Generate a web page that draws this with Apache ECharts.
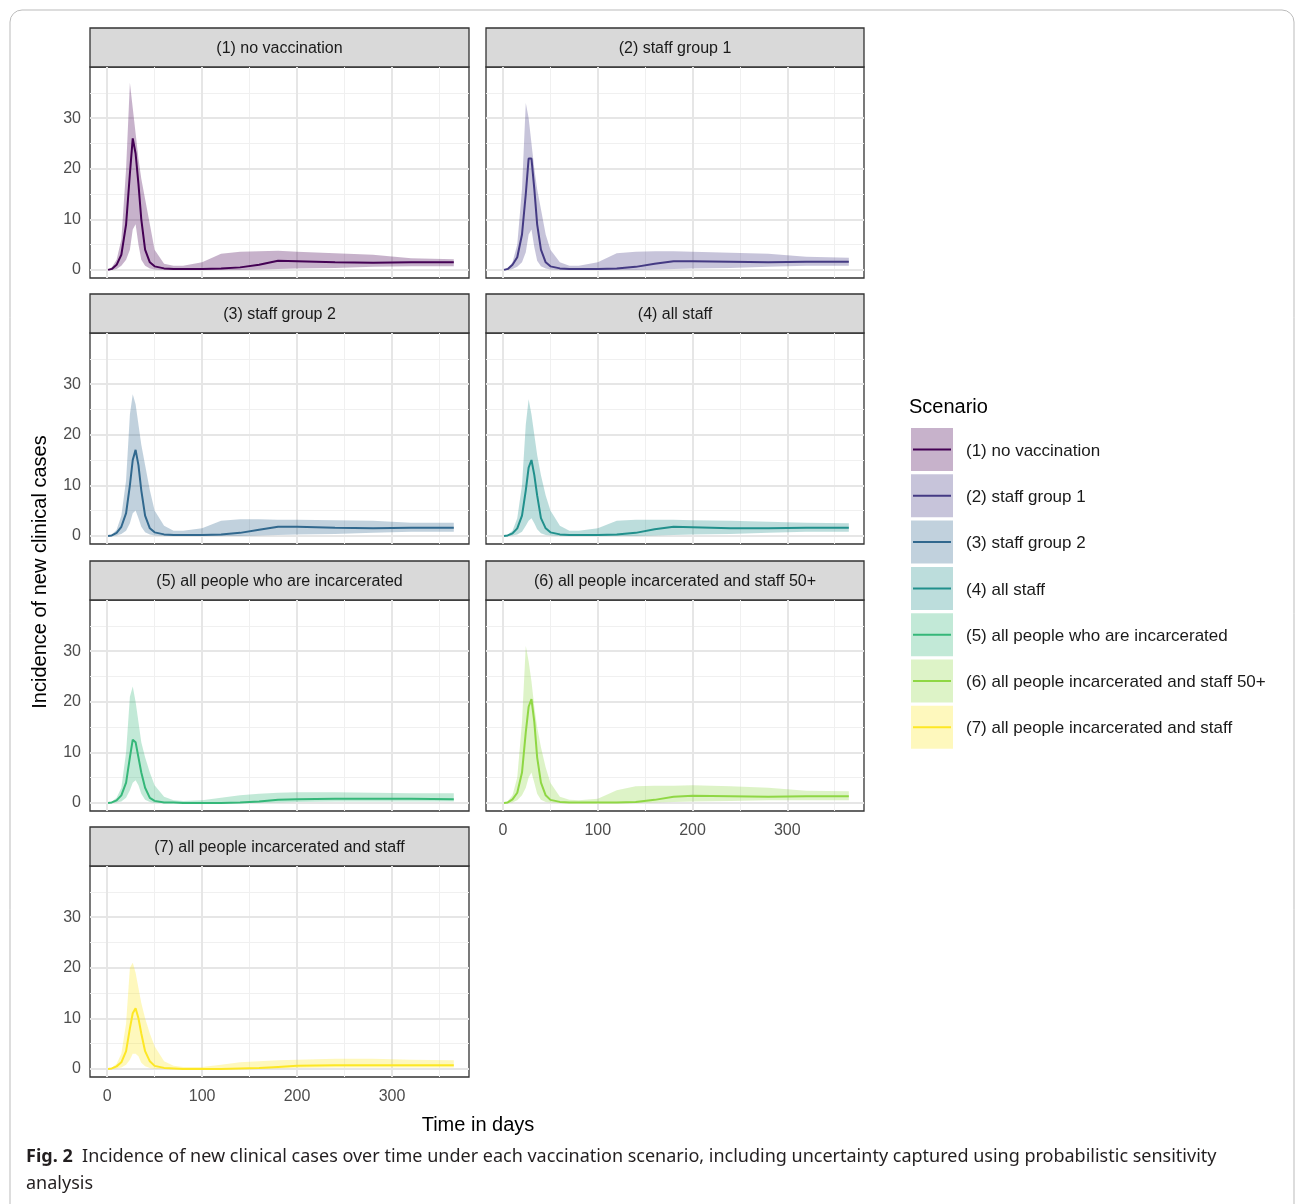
<!DOCTYPE html>
<html><head><meta charset="utf-8">
<script src="https://cdn.jsdelivr.net/npm/echarts@6/dist/echarts.min.js"></script>
<style>html,body{margin:0;padding:0;background:#fff}#c{width:1295px;height:1204px}</style>
</head><body><div id="c"></div>
<script>
const days = [1,5,10,15,20,24,27,30,33,36,40,45,50,60,70,80,100,120,140,160,180,200,240,280,320,365];
const scenarios = ["(1) no vaccination","(2) staff group 1","(3) staff group 2","(4) all staff","(5) all people who are incarcerated","(6) all people incarcerated and staff 50+","(7) all people incarcerated and staff"];
const colors = ["#440154","#443A83","#31688E","#21908C","#35B779","#8FD744","#FDE725"];
const xTicks = [0,100,200,300];
const xMinor = [50,150,250,350];
const yTicks = [0,10,20,30];
const yMinor = [5,15,25,35];

const med1=[0,0.2,1,3,9,19,26,23,17,10,4,1.5,0.7,0.3,0.2,0.2,0.2,0.3,0.5,1,1.8,1.7,1.5,1.4,1.5,1.5];
const up1 =[0,0.5,2,6,20,37,32,27,22,18,14,9,4,1.2,0.8,0.8,1.5,3.2,3.6,3.7,3.8,3.6,3.3,3,2.3,2.1];
const lo1 =[0,0,0.2,0.8,2,4,8,9,5,2,0.8,0.3,0.1,0,0,0,0,0,0,0.1,0.2,0.3,0.4,0.6,0.7,0.7];
const med2=[0,0.2,1,2.5,7,15,22,22,16,9,4,1.5,0.7,0.3,0.2,0.2,0.2,0.3,0.6,1.2,1.7,1.7,1.6,1.5,1.6,1.6];
const up2 =[0,0.4,1.5,5,16,33,30,25,20,16,12,7,4,1.5,0.8,0.8,1.5,3.3,3.6,3.7,3.7,3.6,3.4,3.2,2.6,2.4];
const lo2 =[0,0,0.2,0.6,1.5,3.5,7,8,4.5,1.8,0.7,0.3,0.1,0,0,0,0,0,0,0.1,0.2,0.3,0.4,0.6,0.8,0.8];
const med3=[0,0.1,0.6,1.8,4.5,10,15,17,14,9,4,1.5,0.7,0.3,0.2,0.2,0.2,0.3,0.6,1.2,1.8,1.8,1.6,1.5,1.6,1.6];
const up3 =[0,0.3,1.2,4,11,24,28,26,22,18,14,9,5,2,1,1,1.5,3,3.3,3.3,3.2,3.2,3.1,3,2.6,2.6];
const lo3 =[0,0,0.1,0.4,1,2.5,4.5,5,3.5,1.8,0.7,0.3,0.1,0,0,0,0,0,0,0.1,0.2,0.3,0.4,0.6,0.8,0.8];
const med4=[0,0.1,0.5,1.5,4,9,13.5,15,12,8,3.5,1.5,0.7,0.3,0.2,0.2,0.2,0.3,0.6,1.3,1.8,1.7,1.5,1.5,1.6,1.6];
const up4 =[0,0.3,1,3.5,10,22,27,24,20,16,12,8,5,2,1,1,1.5,3,3.2,3.2,3.2,3.1,3,2.8,2.6,2.5];
const lo4 =[0,0,0.1,0.3,0.8,2,3,3.5,2.5,1.3,0.5,0.2,0.1,0,0,0,0,0,0,0.1,0.2,0.3,0.4,0.6,0.8,0.8];
const med5=[0,0.1,0.5,1.5,4,9,12.5,12,9,6,3,1,0.4,0.1,0.1,0,0,0,0.1,0.3,0.6,0.7,0.8,0.8,0.8,0.7];
const up5 =[0,0.3,1,3,10,21,23,20,16,12,9,6,3.5,1.2,0.5,0.4,0.5,1,1.5,1.8,2,2.1,2.1,2,1.9,1.9];
const lo5 =[0,0,0.1,0.3,1,2.5,4,4.5,3.5,1.8,0.6,0.2,0,0,0,0,0,0,0,0.05,0.1,0.2,0.3,0.3,0.3,0.3];
const med6=[0,0.1,0.7,2,6,14,19,20.5,16,9,4,1.5,0.6,0.2,0.1,0.1,0.1,0.1,0.2,0.6,1.2,1.4,1.3,1.2,1.3,1.3];
const up6 =[0,0.4,1.5,5,16,31,28,24,19,15,11,7,4,1.2,0.6,0.5,0.8,2.5,3.3,3.4,3.4,3.5,3.3,3,2.4,2.3];
const lo6 =[0,0,0.1,0.5,1.5,3,5,6,4,1.8,0.6,0.2,0.1,0,0,0,0,0,0,0.1,0.2,0.3,0.4,0.5,0.5,0.5];
const med7=[0,0.1,0.5,1.3,3.5,8,11,12,10,7,3.5,1.5,0.6,0.2,0.1,0,0,0,0.1,0.2,0.4,0.6,0.7,0.7,0.7,0.7];
const up7 =[0,0.3,1,3,9,20,21,19,16,13,10,7,4.5,1.5,0.6,0.4,0.4,0.8,1.3,1.5,1.7,1.8,2,2,1.8,1.7];
const lo7 =[0,0,0.1,0.3,0.8,1.8,3,3,2.5,1.2,0.5,0.2,0,0,0,0,0,0,0,0.05,0.1,0.2,0.3,0.3,0.3,0.3];

const meds=[med1,med2,med3,med4,med5,med6,med7];
const ups=[up1,up2,up3,up4,up5,up6,up7];
const los=[lo1,lo2,lo3,lo4,lo5,lo6,lo7];

function rgba(hex,a){const n=parseInt(hex.slice(1),16);return `rgba(${n>>16},${(n>>8)&255},${n&255},${a})`;}

const colLeft=[90,486], colW=[379,378];
const rowTop=[67,333,600,866], plotH=211, stripH=39;
const FONT='"Liberation Sans"';
const grids=[],xAxes=[],yAxes=[],series=[],graphics=[];
scenarios.forEach((name,i)=>{
  const r=Math.floor(i/2), c=i%2;
  const left=colLeft[c], top=rowTop[r], w=colW[c];
  grids.push({left:left,top:top,width:w,height:plotH,show:true,borderColor:'#333',borderWidth:1.3,backgroundColor:'#fff',containLabel:false});
  const showX = (i===6||i===5);
  const showY = (c===0);
  xAxes.push({type:'value',gridIndex:i,min:-18,max:381,splitLine:{show:false},axisLine:{show:false},
    axisTick:{show:showX,length:5,lineStyle:{color:'#333'},customValues:xTicks},
    axisLabel:{show:showX,customValues:xTicks,color:'#4d4d4d',fontSize:16,fontFamily:'Liberation Sans',margin:12}});
  yAxes.push({type:'value',gridIndex:i,min:-1.6,max:40.1,splitLine:{show:false},axisLine:{show:false},
    axisTick:{show:showY,length:5,lineStyle:{color:'#333'},customValues:yTicks},
    axisLabel:{show:showY,customValues:yTicks,color:'#4d4d4d',fontSize:16,fontFamily:'Liberation Sans',margin:9}});
  const ml=[];
  xMinor.forEach(v=>ml.push({xAxis:v,lineStyle:{color:'#f0f0f0',width:1,type:'solid'}}));
  yMinor.forEach(v=>ml.push({yAxis:v,lineStyle:{color:'#f0f0f0',width:1,type:'solid'}}));
  xTicks.forEach(v=>ml.push({xAxis:v,lineStyle:{color:'#e6e6e6',width:2,type:'solid'}}));
  yTicks.forEach(v=>ml.push({yAxis:v,lineStyle:{color:'#e6e6e6',width:2,type:'solid'}}));
  const lo=los[i], up=ups[i];
  series.push({type:'custom',xAxisIndex:i,yAxisIndex:i,silent:true,z:2,
    data:[[days[0],lo[0]]],
    renderItem:function(params,api){
      const pts=[];
      for(let k=0;k<days.length;k++) pts.push(api.coord([days[k],up[k]]));
      for(let k=days.length-1;k>=0;k--) pts.push(api.coord([days[k],lo[k]]));
      return {type:'polygon',shape:{points:pts},style:{fill:rgba(colors[i],0.3)}};
    },
    markLine:{silent:true,symbol:'none',label:{show:false},animation:false,z:1,data:ml}});
  series.push({type:'line',xAxisIndex:i,yAxisIndex:i,symbol:'none',silent:true,z:3,
    lineStyle:{width:2,color:colors[i]},data:days.map((d,k)=>[d,meds[i][k]])});
  graphics.push({type:'rect',shape:{x:left,y:top-stripH,width:w,height:stripH},style:{fill:'#d9d9d9',stroke:'#333',lineWidth:1.3}});
  graphics.push({type:'text',x:left+w/2,y:top-stripH/2+1,style:{text:name,font:'16px '+FONT,fill:'#1a1a1a',align:'center',verticalAlign:'middle'}});
});
graphics.push({type:'text',x:909,y:407,style:{text:'Scenario',font:'20px '+FONT,fill:'#000',verticalAlign:'middle'}});
scenarios.forEach((name,i)=>{
  const y=428+i*46.3;
  graphics.push({type:'rect',shape:{x:911,y:y,width:42,height:43},style:{fill:rgba(colors[i],0.3)}});
  graphics.push({type:'line',shape:{x1:913,y1:y+21.5,x2:951,y2:y+21.5},style:{stroke:colors[i],lineWidth:2}});
  graphics.push({type:'text',x:966,y:y+23,style:{text:name,font:'17px '+FONT,fill:'#1a1a1a',verticalAlign:'middle'}});
});
graphics.push({type:'text',x:40,y:572,rotation:Math.PI/2,style:{text:'Incidence of new clinical cases',font:'20px '+FONT,fill:'#000',align:'center',verticalAlign:'middle'}});
graphics.push({type:'text',x:478,y:1125,style:{text:'Time in days',font:'20px '+FONT,fill:'#000',align:'center',verticalAlign:'middle'}});
graphics.push({type:'rect',shape:{x:10,y:10,width:1284,height:1210,r:12},style:{fill:'none',stroke:'#bbb',lineWidth:1},z:-1});
graphics.push({type:'text',x:26,y:1157,style:{rich:{b:{font:'bold 18px "Noto Sans"',fill:'#231f20'},n:{font:'18px "Noto Sans"',fill:'#231f20'}},text:'{b|Fig. 2}{n|  Incidence of new clinical cases over time under each vaccination scenario, including uncertainty captured using probabilistic sensitivity}',verticalAlign:'middle'}});
graphics.push({type:'text',x:26,y:1184,style:{text:'analysis',font:'18px "Noto Sans"',fill:'#231f20',verticalAlign:'middle'}});

const chart=echarts.init(document.getElementById('c'),null,{renderer:'canvas'});
chart.setOption({animation:false,grid:grids,xAxis:xAxes,yAxis:yAxes,series:series,graphic:graphics});
</script></body></html>
